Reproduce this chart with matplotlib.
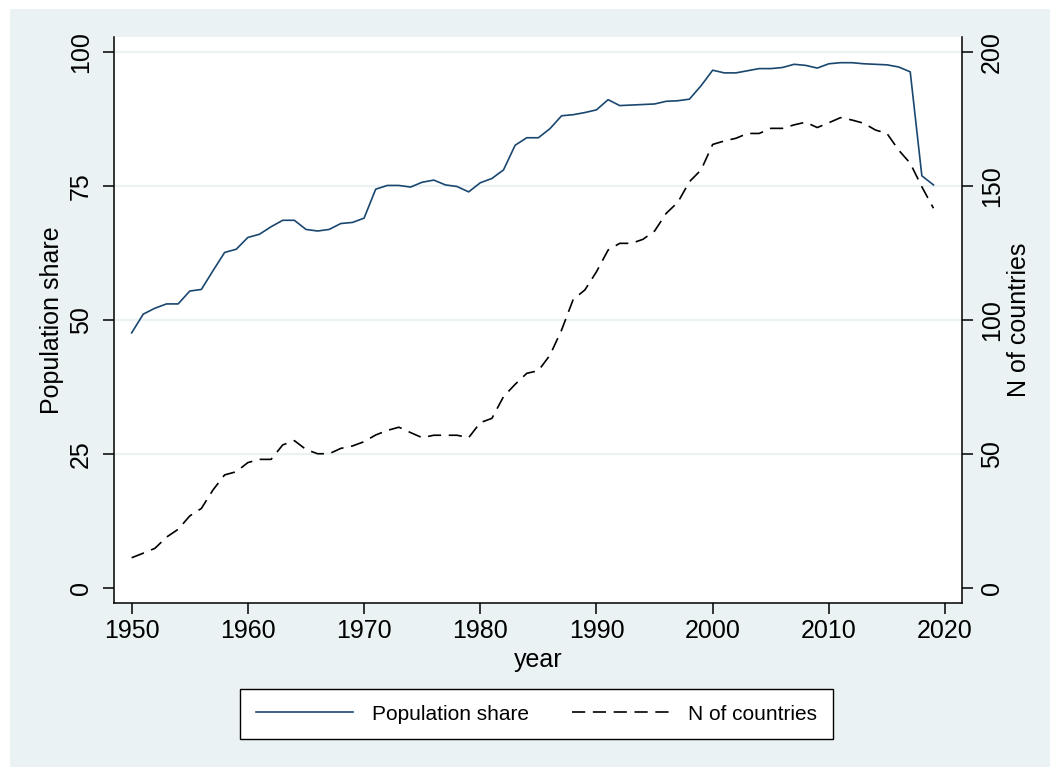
import matplotlib
matplotlib.use("Agg")
import matplotlib.pyplot as plt
from matplotlib.patches import Rectangle

plt.rcParams['font.family'] = ['Liberation Sans', 'DejaVu Sans']
plt.rcParams['lines.scale_dashes'] = False

years = list(range(1950, 2020))
population_share = [
    47.6, 51.1, 52.2, 53.0, 53.0, 55.4, 55.7, 59.2, 62.6, 63.2,
    65.4, 66.0, 67.4, 68.6, 68.6, 66.9, 66.6, 66.9, 68.0, 68.2,
    69.0, 74.4, 75.1, 75.1, 74.8, 75.7, 76.1, 75.2, 74.9, 73.9,
    75.6, 76.4, 78.0, 82.6, 84.0, 84.0, 85.7, 88.1, 88.3, 88.7,
    89.2, 91.1, 90.0, 90.1, 90.2, 90.3, 90.8, 90.9, 91.2, 93.7,
    96.6, 96.1, 96.1, 96.5, 96.9, 96.9, 97.1, 97.7, 97.5, 97.0,
    97.8, 98.0, 98.0, 97.8, 97.7, 97.6, 97.2, 96.3, 76.9, 75.2,
]
n_countries = [
    11.3, 13.0, 14.8, 19.0, 21.9, 26.9, 29.7, 36.6, 42.2, 43.4,
    46.8, 48.0, 48.0, 53.4, 55.0, 51.7, 50.1, 50.1, 52.1, 53.0,
    54.6, 57.1, 58.8, 60.0, 58.0, 56.1, 57.0, 57.0, 57.0, 56.1,
    61.7, 63.3, 71.4, 76.0, 80.1, 81.1, 86.9, 96.3, 107.7, 111.2,
    118.0, 126.1, 128.6, 128.6, 130.1, 133.2, 139.8, 143.9, 151.6, 156.0,
    165.5, 166.8, 167.8, 169.6, 169.6, 171.5, 171.5, 172.8, 173.8, 171.8,
    173.6, 175.5, 174.6, 173.4, 170.9, 169.6, 163.4, 158.5, 149.7, 141.7,
]
x_ticks = [1950, 1960, 1970, 1980, 1990, 2000, 2010, 2020]
left_ticks = [0, 25, 50, 75, 100]
right_ticks = [0, 50, 100, 150, 200]

W, H = 1050, 767
fig = plt.figure(figsize=(W / 100, H / 100), dpi=100)
fig.patch.set_facecolor('white')
bg = '#EAF2F3'
fig.add_artist(Rectangle((10 / W, 0), 1 - 10 / W, 1 - 9 / H, transform=fig.transFigure,
                         facecolor=bg, edgecolor='none', zorder=-10))

left, right, bottom, top = 114 / W, 961.7 / W, 1 - 603.3 / H, 1 - 36.7 / H
ax = fig.add_axes([left, bottom, right - left, top - bottom])
ax.set_facecolor('white')
ax2 = ax.twinx()

navy = '#1A476F'
l1, = ax.plot(years, population_share, color=navy, lw=1.2, label='Population share', zorder=3)
l2, = ax2.plot(years, n_countries, color='black', lw=1.2, dashes=(9.5, 5.5), label='N of countries', zorder=3)

ax.set_xlim(1948.48, 2021.43)
ax.set_ylim(-2.85, 102.85)
ax2.set_ylim(-5.7, 205.7)

ax.set_xticks(x_ticks)
ax.set_yticks(left_ticks)
ax2.set_yticks(right_ticks)
for y in left_ticks[1:]:
    ax.axhline(y, color=bg, lw=1.6, zorder=1)

for a in (ax, ax2):
    for s in a.spines.values():
        s.set_linewidth(1.1)
        s.set_color('black')
    a.spines['top'].set_visible(False)
ax.spines['right'].set_visible(False)
ax2.spines['left'].set_visible(False)
ax2.spines['bottom'].set_visible(False)

fs = 18
ax.tick_params(axis='x', direction='out', length=8, width=1.1, labelsize=fs, pad=3)
ax.tick_params(axis='y', direction='out', length=8, width=1.1, labelsize=fs, pad=7)
ax2.tick_params(axis='y', direction='out', length=8, width=1.1, labelsize=fs, pad=5)
for lab in ax.get_yticklabels():
    lab.set_rotation(90)
    lab.set_va('center')
for lab in ax2.get_yticklabels():
    lab.set_rotation(90)
    lab.set_va('center')

ax.set_xlabel('year', fontsize=fs, labelpad=4)
ax.set_ylabel('Population share', fontsize=fs, labelpad=4)
ax2.set_ylabel('N of countries', fontsize=fs, labelpad=2)

leg = fig.legend(handles=[l1, l2], loc='center', bbox_to_anchor=(536.5 / W, 1 - 714 / H),
                 ncol=2, fontsize=15, frameon=True, fancybox=False, framealpha=1,
                 edgecolor='black', handlelength=4.67, handletextpad=0.9, columnspacing=2.1,
                 borderpad=0.75, borderaxespad=0)
leg.get_frame().set_linewidth(1.0)

fig.savefig('out.png', dpi=100, facecolor=fig.get_facecolor())
